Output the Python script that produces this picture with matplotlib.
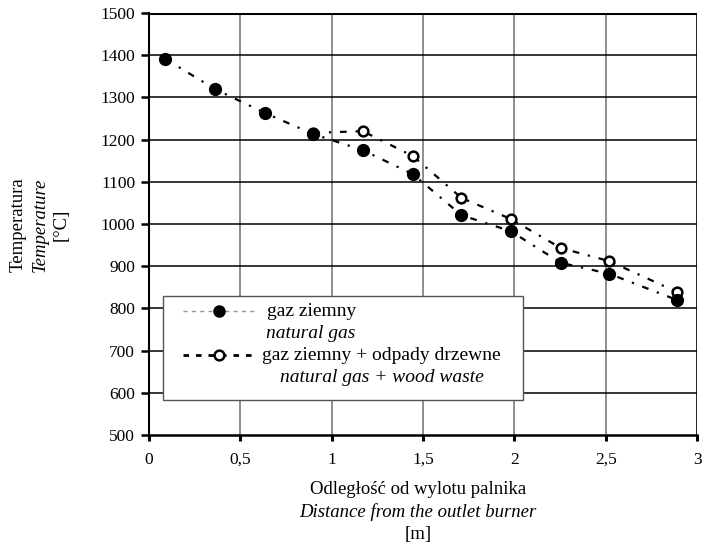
import matplotlib
matplotlib.use("Agg")
import matplotlib.pyplot as plt
from matplotlib.patches import Rectangle
from matplotlib.lines import Line2D

plt.rcParams['font.family'] = ['Liberation Serif', 'DejaVu Serif']

# data
x_gas = [0.09, 0.36, 0.635, 0.90, 1.17, 1.445, 1.71, 1.98, 2.255, 2.52, 2.89]
t_gas = [1391, 1320, 1263, 1213, 1175, 1118, 1021, 983, 908, 882, 820]
x_mix = [0.90, 1.17, 1.445, 1.71, 1.98, 2.255, 2.52, 2.89]
t_mix = [1216, 1220, 1161, 1062, 1012, 943, 912, 839]
xticks = [0, 0.5, 1, 1.5, 2, 2.5, 3]
xticklabels = ['0', '0,5', '1', '1,5', '2', '2,5', '3']
yticks = list(range(500, 1600, 100))

L, R, T, B = 149, 697, 13, 435
fig = plt.figure(figsize=(7.04, 5.46), dpi=100)
ax = fig.add_axes([L/704, 1-B/546, (R-L)/704, (B-T)/546])
ax.set_xlim(0, 3)
ax.set_ylim(500, 1500)

for xv in xticks[1:-1]:
    ax.axvline(xv, color='#7a7a7a', lw=1.2, zorder=1)
ax.axvline(3, color='black', lw=1.2, zorder=1)
for yv in yticks[1:-1]:
    ax.axhline(yv, color='black', lw=1.1, zorder=1)
ax.axhline(1500, color='black', lw=2.2, zorder=1)

ax.plot(x_mix, t_mix, color='black', lw=1.6, linestyle=(0, (3, 4, 1, 4)),
        marker='o', markersize=7, markerfacecolor='white', markeredgecolor='black',
        markeredgewidth=1.8, zorder=3)
ax.plot(x_gas, t_gas, color='black', lw=1.6, linestyle=(0, (3, 4, 1, 4)),
        marker='o', markersize=8.5, markerfacecolor='black', markeredgecolor='black', zorder=4)

ax.set_xticks(xticks)
ax.set_xticklabels(xticklabels)
ax.set_yticks(yticks)
ax.tick_params(axis='both', direction='out', length=6, width=1.8, labelsize=12.5, colors='black')
ax.tick_params(axis='x', length=4, width=2.2, pad=8)
ax.tick_params(axis='y', pad=4)
for s in ['top', 'right']:
    ax.spines[s].set_visible(False)
ax.spines['left'].set_linewidth(1.5)
ax.spines['bottom'].set_linewidth(1.8)

def fx(px):
    return (px-L)/(R-L)

def fy(py):
    return (B-py)/(B-T)

# legend box
ax.add_patch(Rectangle((fx(163), fy(400)), fx(523)-fx(163), fy(296)-fy(400), transform=ax.transAxes,
                       facecolor='white', edgecolor='#555555', lw=1.0, zorder=5))

ax.add_line(Line2D([fx(183), fx(257)], [fy(311), fy(311)], transform=ax.transAxes,
                   color='#999999', lw=1.0, linestyle=(0, (3, 3)), zorder=6))
ax.add_line(Line2D([fx(219)], [fy(311)], transform=ax.transAxes, marker='o',
                   markersize=8, color='black', zorder=7))
ax.add_line(Line2D([fx(183), fx(257)], [fy(355), fy(355)], transform=ax.transAxes,
                   color='black', lw=2.0, linestyle=(0, (2, 2.5)), zorder=6))
ax.add_line(Line2D([fx(219)], [fy(355)], transform=ax.transAxes, marker='o',
                   markersize=7, markerfacecolor='white', markeredgecolor='black',
                   markeredgewidth=1.8, zorder=7))

ax.text(fx(312), fy(311), 'gaz ziemny', transform=ax.transAxes, ha='center', va='center',
        fontsize=14, zorder=8)
ax.text(fx(311), fy(333), 'natural gas', transform=ax.transAxes, ha='center', va='center',
        fontsize=14, style='italic', zorder=8)
ax.text(fx(381), fy(355), 'gaz ziemny + odpady drzewne', transform=ax.transAxes,
        ha='center', va='center', fontsize=14, zorder=8)
ax.text(fx(382), fy(377), 'natural gas + wood waste', transform=ax.transAxes,
        ha='center', va='center', fontsize=14, style='italic', zorder=8)

# axis labels
fig.text(418/704, 1-490/546, 'Odległość od wylotu palnika', ha='center', va='center', fontsize=13.5)
fig.text(418/704, 1-512/546, 'Distance from the outlet burner', ha='center', va='center',
         fontsize=13.5, style='italic')
fig.text(418/704, 1-534/546, '[m]', ha='center', va='center', fontsize=13.5)

fig.text(18/704, 1-225/546, 'Temperatura', ha='center', va='center', fontsize=13.5, rotation=90)
fig.text(40/704, 1-225/546, 'Temperature', ha='center', va='center', fontsize=13.5,
         rotation=90, style='italic')
fig.text(61/704, 1-225/546, '[°C]', ha='center', va='center', fontsize=13.5, rotation=90)

fig.savefig('out.png', dpi=100)
